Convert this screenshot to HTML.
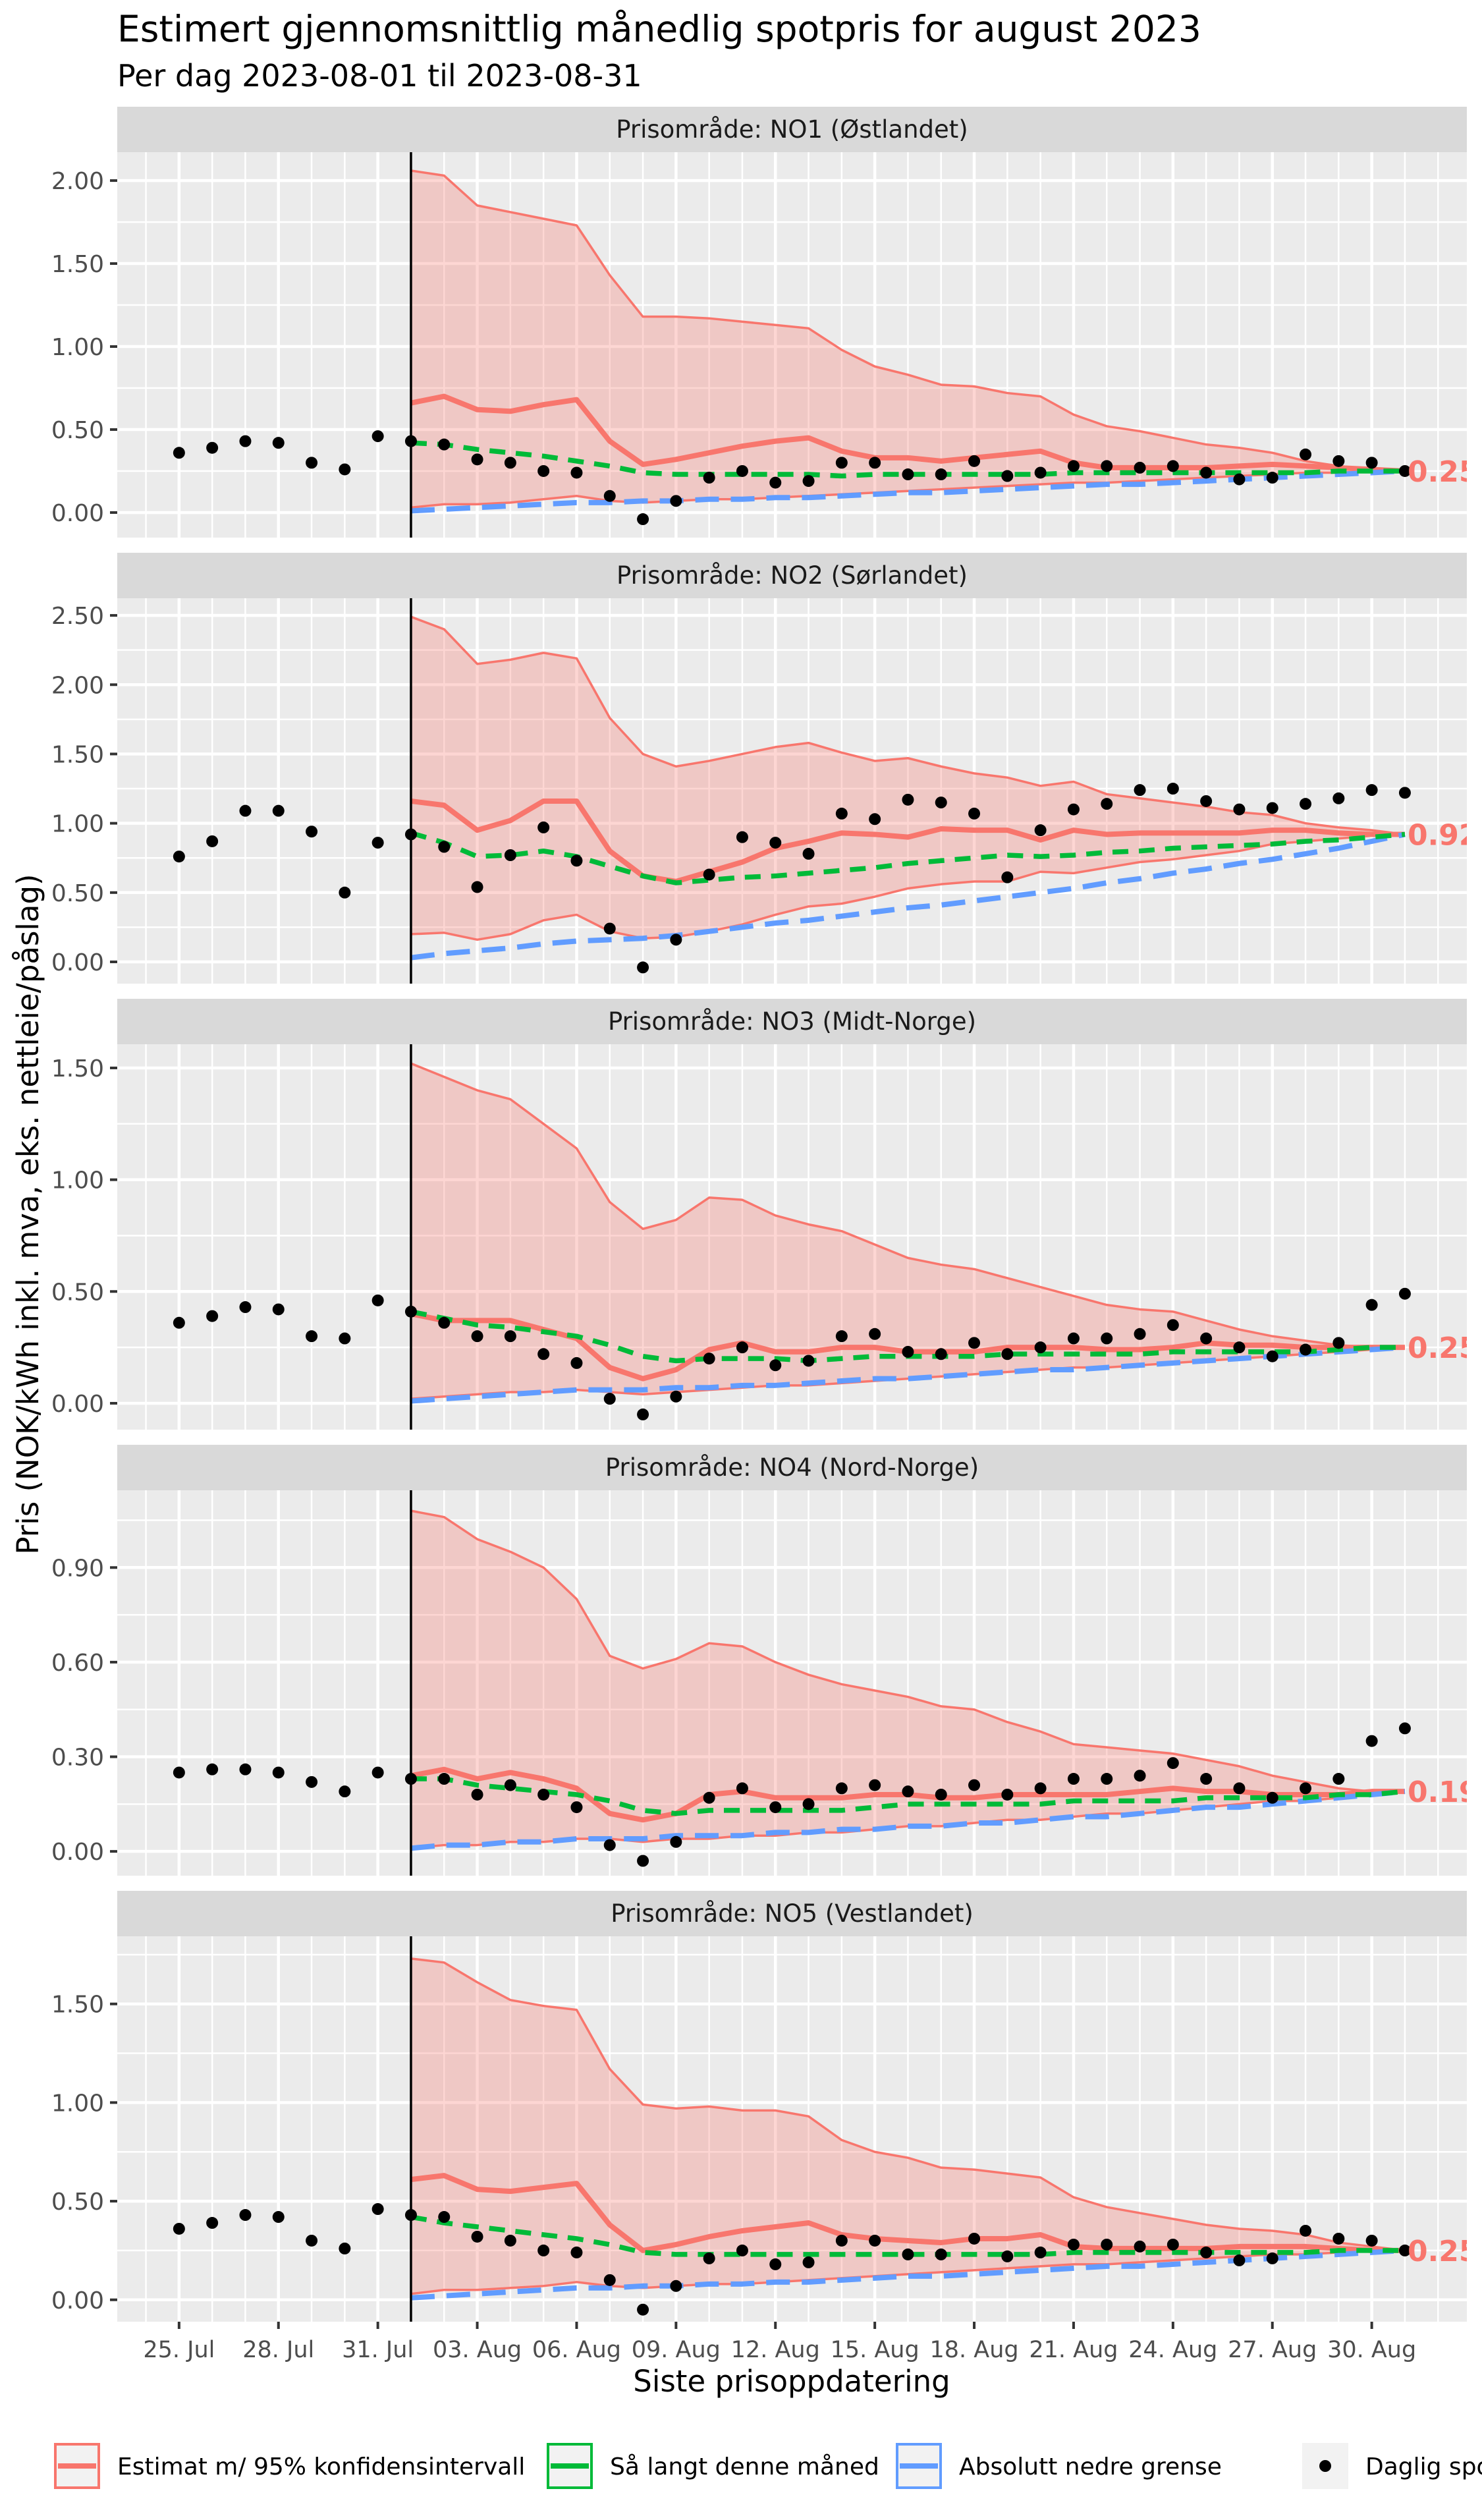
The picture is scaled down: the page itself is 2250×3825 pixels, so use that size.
<!DOCTYPE html>
<html><head><meta charset="utf-8">
<style>
html,body{margin:0;padding:0;background:#fff;}
svg{display:block;font-family:"DejaVu Sans","Liberation Sans",sans-serif;}
</style></head>
<body>
<svg id="chart" xmlns="http://www.w3.org/2000/svg" width="2250" height="3825" viewBox="0 0 2250 3825">
<rect x="0" y="0" width="2250" height="3825" fill="#ffffff"/>
<text x="178" y="63" font-size="55" fill="#000">Estimert gjennomsnittlig månedlig spotpris for august 2023</text>
<text x="178" y="131" font-size="46" fill="#000">Per dag 2023-08-01 til 2023-08-31</text>
<text x="1202" y="3630" font-size="45" fill="#000" text-anchor="middle">Siste prisoppdatering</text>
<text transform="translate(58,1843) rotate(-90)" font-size="45" fill="#000" text-anchor="middle">Pris (NOK/kWh inkl. mva, eks. nettleie/påslag)</text>
<g id="panels"></g>
<g id="legend"></g>
</svg>
<script>
// ---- data ----
const regions = ["Prisområde: NO1 (Østlandet)","Prisområde: NO2 (Sørlandet)","Prisområde: NO3 (Midt-Norge)","Prisområde: NO4 (Nord-Norge)","Prisområde: NO5 (Vestlandet)"];
const dotDays = [-7,-6,-5,-4,-3,-2,-1,0,1,2,3,4,5,6,7,8,9,10,11,12,13,14,15,16,17,18,19,20,21,22,23,24,25,26,27,28,29,30];
const estDays = [0,1,2,3,4,5,6,7,8,9,10,11,12,13,14,15,16,17,18,19,20,21,22,23,24,25,26,27,28,29,30];
const xTickDays = [-7,-4,-1,2,5,8,11,14,17,20,23,26,29];
const xTickLabels = ["25. Jul","28. Jul","31. Jul","03. Aug","06. Aug","09. Aug","12. Aug","15. Aug","18. Aug","21. Aug","24. Aug","27. Aug","30. Aug"];
const yDomains = [[-0.151,2.171],[-0.157,2.624],[-0.118,1.606],[-0.077,1.145],[-0.111,1.843]];
const yTicks = [[0,0.5,1,1.5,2],[0,0.5,1,1.5,2,2.5],[0,0.5,1,1.5],[0,0.3,0.6,0.9],[0,0.5,1,1.5]];
const endLabels = ["0.25","0.92","0.25","0.19","0.25"];

const dotsNO1 = [.36,.39,.43,.42,.30,.26,.46,.43,.41,.32,.30,.25,.24,.10,-.04,.07,.21,.25,.18,.19,.30,.30,.23,.23,.31,.22,.24,.28,.28,.27,.28,.24,.20,.21,.35,.31,.30,.25];
const upperNO1 = [2.06,2.03,1.85,1.81,1.77,1.73,1.43,1.18,1.18,1.17,1.15,1.13,1.11,.98,.88,.83,.77,.76,.72,.70,.59,.52,.49,.45,.41,.39,.36,.31,.28,.26,.25];
const midNO1 = [.66,.70,.62,.61,.65,.68,.43,.29,.32,.36,.40,.43,.45,.37,.33,.33,.31,.33,.35,.37,.30,.27,.27,.27,.27,.28,.29,.28,.27,.26,.25];
const lowerNO1 = [.03,.05,.05,.06,.08,.10,.07,.06,.07,.08,.08,.09,.10,.11,.12,.13,.14,.15,.16,.17,.18,.18,.19,.20,.21,.22,.23,.24,.24,.25,.25];
const sofarNO1 = [.42,.41,.38,.36,.34,.31,.28,.24,.23,.23,.23,.23,.23,.22,.23,.23,.23,.23,.23,.23,.24,.24,.24,.24,.24,.24,.24,.24,.25,.25,.25];
const floorNO1 = [.01,.02,.03,.04,.05,.06,.06,.07,.07,.08,.08,.09,.09,.10,.11,.12,.12,.13,.14,.15,.16,.17,.17,.18,.19,.20,.21,.22,.23,.24,.25];

const dotsNO2 = [.76,.87,1.09,1.09,.94,.50,.86,.92,.83,.54,.77,.97,.73,.24,-.04,.16,.63,.90,.86,.78,1.07,1.03,1.17,1.15,1.07,.61,.95,1.10,1.14,1.24,1.25,1.16,1.10,1.11,1.14,1.18,1.24,1.22];
const upperNO2 = [2.49,2.40,2.15,2.18,2.23,2.19,1.76,1.50,1.41,1.45,1.50,1.55,1.58,1.51,1.45,1.47,1.41,1.36,1.33,1.27,1.30,1.21,1.18,1.15,1.12,1.08,1.06,1.00,.97,.95,.92];
const midNO2 = [1.16,1.13,.95,1.02,1.16,1.16,.80,.62,.58,.65,.72,.82,.87,.93,.92,.90,.96,.95,.95,.88,.95,.92,.93,.93,.93,.93,.95,.95,.93,.92,.92];
const lowerNO2 = [.20,.21,.16,.20,.30,.34,.22,.17,.18,.22,.27,.34,.40,.42,.47,.53,.56,.58,.58,.65,.64,.68,.72,.74,.77,.80,.85,.87,.89,.91,.92];
const sofarNO2 = [.93,.86,.76,.77,.80,.76,.69,.62,.57,.59,.61,.62,.64,.66,.68,.71,.73,.75,.77,.76,.77,.79,.80,.82,.83,.84,.85,.87,.88,.90,.92];
const floorNO2 = [.03,.06,.08,.10,.13,.15,.16,.17,.19,.22,.25,.28,.30,.33,.36,.39,.41,.44,.47,.50,.53,.57,.60,.64,.67,.71,.74,.78,.82,.87,.92];

const dotsNO3 = [.36,.39,.43,.42,.30,.29,.46,.41,.36,.30,.30,.22,.18,.02,-.05,.03,.20,.25,.17,.19,.30,.31,.23,.22,.27,.22,.25,.29,.29,.31,.35,.29,.25,.21,.24,.27,.44,.49];
const upperNO3 = [1.52,1.46,1.40,1.36,1.25,1.14,.90,.78,.82,.92,.91,.84,.80,.77,.71,.65,.62,.60,.56,.52,.48,.44,.42,.41,.37,.33,.30,.28,.26,.25,.25];
const midNO3 = [.40,.37,.37,.37,.33,.29,.16,.11,.15,.24,.27,.23,.23,.25,.25,.23,.23,.23,.25,.25,.25,.24,.24,.25,.27,.26,.26,.25,.25,.25,.25];
const lowerNO3 = [.02,.03,.04,.05,.05,.06,.05,.04,.05,.06,.07,.08,.08,.09,.10,.11,.12,.13,.14,.15,.16,.16,.17,.18,.19,.20,.21,.22,.23,.24,.25];
const sofarNO3 = [.41,.38,.35,.34,.32,.30,.26,.21,.19,.20,.20,.20,.19,.20,.21,.21,.21,.21,.22,.22,.22,.22,.22,.23,.23,.23,.23,.23,.24,.25,.25];
const floorNO3 = [.01,.02,.03,.04,.05,.06,.06,.06,.07,.07,.08,.08,.09,.10,.11,.11,.12,.13,.14,.15,.15,.16,.17,.18,.19,.20,.21,.22,.23,.24,.25];

const dotsNO4 = [.25,.26,.26,.25,.22,.19,.25,.23,.23,.18,.21,.18,.14,.02,-.03,.03,.17,.20,.14,.15,.20,.21,.19,.18,.21,.18,.20,.23,.23,.24,.28,.23,.20,.17,.20,.23,.35,.39];
const upperNO4 = [1.08,1.06,.99,.95,.90,.80,.62,.58,.61,.66,.65,.60,.56,.53,.51,.49,.46,.45,.41,.38,.34,.33,.32,.31,.29,.27,.24,.22,.20,.19,.19];
const midNO4 = [.24,.26,.23,.25,.23,.20,.12,.10,.12,.18,.19,.17,.17,.17,.18,.18,.17,.17,.18,.18,.18,.18,.19,.20,.19,.19,.18,.18,.18,.19,.19];
const lowerNO4 = [.01,.02,.02,.03,.03,.04,.04,.03,.04,.04,.05,.05,.06,.06,.07,.08,.08,.09,.10,.10,.11,.12,.12,.13,.14,.15,.16,.16,.17,.18,.19];
const sofarNO4 = [.23,.23,.21,.20,.19,.18,.16,.13,.12,.13,.13,.13,.13,.13,.14,.15,.15,.15,.15,.15,.16,.16,.16,.16,.17,.17,.17,.17,.18,.18,.19];
const floorNO4 = [.01,.02,.02,.03,.03,.04,.04,.04,.05,.05,.05,.06,.06,.07,.07,.08,.08,.09,.09,.10,.11,.11,.12,.13,.14,.14,.15,.16,.17,.18,.19];

const dotsNO5 = [.36,.39,.43,.42,.30,.26,.46,.43,.42,.32,.30,.25,.24,.10,-.05,.07,.21,.25,.18,.19,.30,.30,.23,.23,.31,.22,.24,.28,.28,.27,.28,.24,.20,.21,.35,.31,.30,.25];
const upperNO5 = [1.73,1.71,1.61,1.52,1.49,1.47,1.17,.99,.97,.98,.96,.96,.93,.81,.75,.72,.67,.66,.64,.62,.52,.47,.44,.41,.38,.36,.35,.33,.29,.27,.25];
const midNO5 = [.61,.63,.56,.55,.57,.59,.38,.25,.28,.32,.35,.37,.39,.33,.31,.30,.29,.31,.31,.33,.27,.26,.26,.26,.26,.27,.27,.27,.26,.25,.25];
const lowerNO5 = [.03,.05,.05,.06,.07,.09,.07,.06,.07,.08,.08,.09,.10,.11,.12,.13,.14,.15,.16,.17,.18,.18,.19,.20,.21,.22,.23,.23,.24,.25,.25];
const sofarNO5 = [.42,.39,.37,.35,.33,.31,.28,.24,.23,.23,.23,.23,.23,.23,.23,.23,.23,.23,.23,.23,.24,.24,.24,.24,.24,.24,.24,.24,.25,.25,.25];
const floorNO5 = [.01,.02,.03,.04,.05,.06,.06,.07,.07,.08,.08,.09,.09,.10,.11,.12,.12,.13,.14,.15,.16,.17,.17,.18,.19,.20,.21,.22,.23,.24,.25];

const dotsAll = [dotsNO1,dotsNO2,dotsNO3,dotsNO4,dotsNO5];
const upperAll = [upperNO1,upperNO2,upperNO3,upperNO4,upperNO5];
const midAll = [midNO1,midNO2,midNO3,midNO4,midNO5];
const lowerAll = [lowerNO1,lowerNO2,lowerNO3,lowerNO4,lowerNO5];
const sofarAll = [sofarNO1,sofarNO2,sofarNO3,sofarNO4,sofarNO5];
const floorAll = [floorNO1,floorNO2,floorNO3,floorNO4,floorNO5];

// ---- layout ----
const NS = "http://www.w3.org/2000/svg";
const PL = 178, PR = 2227, PW = PR - PL;
const X0 = -8.866, X1 = 31.87;
const PITCH = 677, STRIP_TOP = 162, STRIP_H = 69, PH = 585;
const RED = "#F8766D", GREEN = "#00BA38", BLUE = "#619CFF";
function xs(d){ return PL + (d - X0) / (X1 - X0) * PW; }
function mk(tag, attrs, parent){ const e = document.createElementNS(NS, tag); for (const k in attrs) e.setAttribute(k, attrs[k]); parent.appendChild(e); return e; }
function fmt(v){ return v.toFixed(2); }

const root = document.getElementById("panels");
for (let p = 0; p < 5; p++){
  const sTop = STRIP_TOP + p * PITCH, top = sTop + STRIP_H, bot = top + PH;
  const [y0, y1] = yDomains[p];
  const ys = v => bot - (v - y0) / (y1 - y0) * PH;
  const g = mk("g", {}, root);
  
  
  const strip = mk("rect", {x: PL, y: sTop, width: PW, height: STRIP_H, fill: "#D9D9D9"}, g);
  
  
  const st = mk("text", {x: (PL + PR) / 2, y: sTop + 47, "font-size": 37, fill: "#1A1A1A", "text-anchor": "middle"}, g);
  st.textContent = regions[p];
  
  
  const bg = mk("rect", {x: PL, y: top, width: PW, height: PH, fill: "#EBEBEB"}, g);
  
  
  const clipId = "clip" + p;
  const cp = mk("clipPath", {id: clipId}, g);
  mk("rect", {x: PL, y: top, width: PW, height: PH}, cp);
  const grid = mk("g", {}, g);
  
  
  for (let d = -8; d <= 31; d++){
    const major = xTickDays.includes(d);
    mk("line", {x1: xs(d), x2: xs(d), y1: top, y2: bot, stroke: "#fff", "stroke-width": major ? 4.5 : 2.5}, grid);
  }
  const yt = yTicks[p], step = yt[1] - yt[0];
  for (let v = yt[0] - step / 2; v <= y1; v += step){
    if (v >= y0) mk("line", {x1: PL, x2: PR, y1: ys(v), y2: ys(v), stroke: "#fff", "stroke-width": 2.5}, grid);
  }
  yt.forEach(v => {
    mk("line", {x1: PL, x2: PR, y1: ys(v), y2: ys(v), stroke: "#fff", "stroke-width": 4.5}, grid);
    const tk = mk("line", {x1: PL - 11, x2: PL, y1: ys(v), y2: ys(v), stroke: "#333", "stroke-width": 4}, g);
    
    
    const tl = mk("text", {x: PL - 20, y: ys(v) + 13, "font-size": 36, fill: "#4D4D4D", "text-anchor": "end"}, g);
    tl.textContent = fmt(v);
    
    
  });
  const data = mk("g", {"clip-path": "url(#" + clipId + ")"}, g);
  
  
  const up = upperAll[p], lo = lowerAll[p];
  let rib = estDays.map((d, i) => xs(d) + "," + ys(up[i])).join(" ") + " " +
            estDays.slice().reverse().map((d, j) => { const i = estDays.length - 1 - j; return xs(d) + "," + ys(lo[i]); }).join(" ");
  const ribbon = mk("polygon", {points: rib, fill: RED, "fill-opacity": 0.3, stroke: "none"}, data);
  
  
  const line = (arr, attrs, name) => {
    const pl = mk("polyline", Object.assign({points: estDays.map((d, i) => xs(d) + "," + ys(arr[i])).join(" "), fill: "none", "stroke-linejoin": "round"}, attrs), data);
    
    
  };
  line(up, {stroke: RED, "stroke-width": 3.5}, 'upper-bound-line');
  line(lo, {stroke: RED, "stroke-width": 3.5}, 'lower-bound-line');
  line(midAll[p], {stroke: RED, "stroke-width": 8}, 'estimate-line');
  line(floorAll[p], {stroke: BLUE, "stroke-width": 8, "stroke-dasharray": "36 18"}, 'absolute-floor-line');
  line(sofarAll[p], {stroke: GREEN, "stroke-width": 7.5, "stroke-dasharray": "24 16"}, 'so-far-line');
  const vl = mk("line", {x1: xs(0), x2: xs(0), y1: top, y2: bot, stroke: "#000", "stroke-width": 3.5}, data);
  
  
  const dots = dotsAll[p];
  dotDays.forEach((d, i) => {
    const c = mk("circle", {cx: xs(d), cy: ys(dots[i]), r: 9, fill: "#000"}, data);
    
    
  });
  const el = mk("text", {x: xs(30) + 4, y: ys(midAll[p][30]) + 16, "font-size": 44, "font-weight": "bold", fill: RED}, data);
  el.textContent = endLabels[p];
  
  
  if (p === 4){
    xTickDays.forEach((d, i) => {
      const tk = mk("line", {x1: xs(d), x2: xs(d), y1: bot, y2: bot + 11, stroke: "#333", "stroke-width": 4}, g);
      
      
      const tl = mk("text", {x: xs(d), y: bot + 54, "font-size": 35, fill: "#4D4D4D", "text-anchor": "middle"}, g);
      tl.textContent = xTickLabels[i];
      
      
    });
  }
}

// ---- legend ----
const lg = document.getElementById("legend");
const keys = [
  {x: 82, label: "Estimat m/ 95% konfidensintervall", color: RED, type: "box"},
  {x: 830, label: "Så langt denne måned", color: GREEN, type: "box"},
  {x: 1360, label: "Absolutt nedre grense", color: BLUE, type: "box"},
  {x: 1977, label: "Daglig spotpris", color: "#000", type: "dot"}
];
keys.forEach(k => {
  const g = mk("g", {}, lg);
  
  
  mk("rect", {x: k.x, y: 3708, width: 70, height: 70, fill: "#F2F2F2"}, g);
  if (k.type === "box"){
    mk("rect", {x: k.x + 2, y: 3710, width: 66, height: 66, fill: "#F2F2F2", stroke: k.color, "stroke-width": 4}, g);
    mk("line", {x1: k.x + 6, x2: k.x + 64, y1: 3743, y2: 3743, stroke: k.color, "stroke-width": 8}, g);
  } else {
    mk("circle", {cx: k.x + 35, cy: 3743, r: 9, fill: "#000"}, g);
  }
  const t = mk("text", {x: k.x + 96, y: 3756, "font-size": 36, fill: "#000"}, g);
  t.textContent = k.label;
});
</script>
</body></html>
